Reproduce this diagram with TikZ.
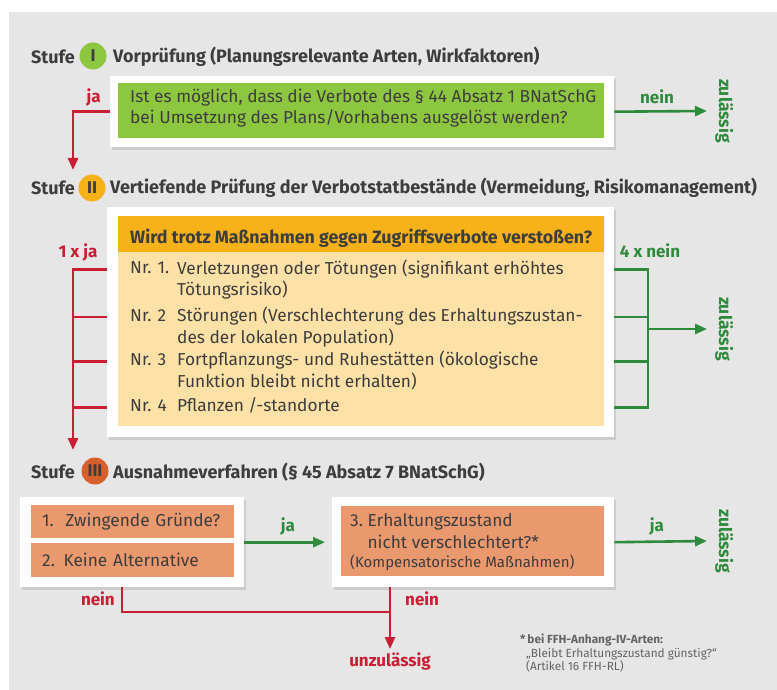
\documentclass[tikz,border=0pt]{standalone}
\usepackage{fontspec}
\setmainfont{Fira Sans}
\usetikzlibrary{positioning,shadows,arrows.meta}

\definecolor{bggray}{HTML}{E6E6E6}
\definecolor{txtgray}{HTML}{3D3D3D}
\definecolor{stufegreen}{HTML}{8DC63F}
\definecolor{stufeyellow}{HTML}{F7B219}
\definecolor{stufeorange}{HTML}{D6612B}
\definecolor{paleorange}{HTML}{FEE1A6}
\definecolor{salmon}{HTML}{E9996D}
\definecolor{okgreen}{HTML}{2E8B3C}
\definecolor{nored}{HTML}{C91E33}

\tikzset{
  whitebox/.style={fill=white, anchor=north west, inner sep=0pt,
    drop shadow={shadow xshift=1.5pt, shadow yshift=-2.5pt, opacity=0.25}},
  panel/.style={anchor=north west, inner sep=0pt},
  stufe/.style={anchor=west, inner sep=0pt, text=txtgray,
    font=\fontsize{18}{21}\selectfont\bfseries},
  roman/.style={circle, inner sep=0pt, minimum size=27pt, text=txtgray,
    font=\fontsize{17}{20}\selectfont\bfseries},
  boxtext/.style={anchor=north west, inner sep=0pt, align=left, text=txtgray,
    font=\fontsize{17.3}{20.5}\selectfont},
  answer/.style={inner sep=0pt, font=\fontsize{17}{20}\selectfont\bfseries},
  zul/.style={rotate=-90, anchor=south, inner xsep=0pt, inner ysep=8pt,
    text=okgreen, font=\fontsize{17.5}{20}\selectfont\bfseries},
  yesline/.style={draw=okgreen, line width=2.6pt},
  noline/.style={draw=nored, line width=2.6pt},
  arrowend/.style={-{Triangle[length=12pt,width=10pt]}},
}

\begin{document}
\begin{tikzpicture}[x=1pt,y=-1pt]
  \useasboundingbox (0,0) rectangle (777,690);
  \fill[bggray] (9,12) rectangle (777,690);

  % Stufe I
  \node[stufe] (stufeI) at (31,57) {Stufe};
  \node[roman, fill=stufegreen] (romI) at (93,56) {I};
  \node[stufe] (titelI) at (113,57) {Vorprüfung (Planungsrelevante Arten, Wirkfaktoren)};

  \node[whitebox, minimum width=504pt, minimum height=71pt] (box1) at (110,76) {};
  \node[panel, fill=stufegreen, minimum width=486pt, minimum height=55pt] (frage1) at (118,83) {};
  \node[boxtext] (text1) at (130,88) {\strut Ist es möglich, dass die Verbote des § 44 Absatz 1 BNatSchG\\
    bei Umsetzung des Plans/Vorhabens ausgelöst werden?};

  \node[answer, text=nored, anchor=east] (jaI) at (101,97) {ja};
  \node[answer, text=okgreen] (neinI) at (657,97) {nein};
  \node[zul] (zulI) at (707,111) {zulässig};
  \coordinate (pfeilII) at (73,170);
  \draw[noline, arrowend] (box1.west) -| (pfeilII);
  \draw[yesline, arrowend] (box1.east) -- (zulI.south);

  % Stufe II
  \node[stufe] (stufeII) at (31,188) {Stufe};
  \node[roman, fill=stufeyellow] (romII) at (92,188) {II};
  \node[stufe] (titelII) at (110,188) {Vertiefende Prüfung der Verbotstatbestände (Vermeidung, Risikomanagement)};

  \node[whitebox, minimum width=507pt, minimum height=230pt] (box2) at (107,207) {};
  \node[panel, fill=stufeyellow, minimum width=486pt, minimum height=36pt] (kopf2) at (118,216) {};
  \node[panel, fill=paleorange, minimum width=486pt, minimum height=174pt] (liste2) at (118,252) {};
  \node[boxtext, font=\fontsize{17.8}{20.5}\selectfont\bfseries] (frage2) at (130,229)
    {\strut Wird trotz Maßnahmen gegen Zugriffsverbote verstoßen?};

  \node[boxtext] (nr1) at (130,259.2) {\strut Nr. 1.};
  \node[boxtext] (nr2) at (130,306.7) {\strut Nr. 2};
  \node[boxtext] (nr3) at (130,351) {\strut Nr. 3};
  \node[boxtext] (nr4) at (130,397.2) {\strut Nr. 4};
  \node[boxtext] (item1) at ([xshift=47pt]nr1.north west) {\strut Verletzungen oder Tötungen (signifikant erhöhtes\\Tötungsrisiko)};
  \node[boxtext] (item2) at ([xshift=47pt]nr2.north west) {\strut Störungen (Verschlechterung des Erhaltungszustan-\\des der lokalen Population)};
  \node[boxtext] (item3) at ([xshift=47pt]nr3.north west) {\strut Fortpflanzungs- und Ruhestätten (ökologische\\Funktion bleibt nicht erhalten)};
  \node[boxtext] (item4) at ([xshift=47pt]nr4.north west) {\strut Pflanzen /-standorte};

  \node[answer, text=nored] (jaII) at (78,252) {1 x ja};
  \node[answer, text=okgreen] (neinII) at (650,251) {4 x nein};
  \node[zul] (zulII) at (707,329) {zulässig};
  \coordinate (pfeilIII) at (73,450);
  \coordinate (gabel) at (648,329);
  \draw[noline, arrowend] (box2.west |- nr1.west) -| (pfeilIII);
  \foreach \i in {2,3,4} {
    \draw[noline] (box2.west |- nr\i.west) -- (pfeilIII |- nr\i.west);
  }
  \draw[yesline] (box2.east |- nr1.west) -- (gabel |- nr1.west) -- (gabel |- nr4.west) -- (box2.east |- nr4.west);
  \foreach \i in {2,3} {
    \draw[yesline] (box2.east |- nr\i.west) -- (gabel |- nr\i.west);
  }
  \draw[yesline, arrowend] (gabel) -- (zulII.south);

  % Stufe III
  \node[stufe] (stufeIII) at (31,472) {Stufe};
  \node[roman, fill=stufeorange] (romIII) at (95,471) {III};
  \node[stufe] (titelIII) at (113,472) {Ausnahmeverfahren (§ 45 Absatz 7 BNatSchG)};

  \node[whitebox, minimum width=224pt, minimum height=90pt] (box3a) at (20,497) {};
  \node[panel, fill=salmon, text=txtgray, font=\fontsize{17.3}{20.5}\selectfont, text width=181pt,
    inner xsep=11pt, minimum height=33pt] (grund) at (31,505) {1.\ \ Zwingende Gründe?};
  \node[panel, fill=salmon, text=txtgray, font=\fontsize{17.3}{20.5}\selectfont, text width=181pt,
    inner xsep=11pt, minimum height=34pt] (alternative) at (31,543) {2. Keine Alternative};

  \node[whitebox, minimum width=282pt, minimum height=90pt] (box3b) at (332,497) {};
  \node[panel, fill=salmon, minimum width=263pt, minimum height=70pt] (zustand) at (341,506) {};
  \node[boxtext, font=\fontsize{17.3}{22}\selectfont] (text3) at (350,511.2)
    {\strut 3.\ Erhaltungszustand\\\hphantom{3.\ }nicht verschlechtert?*\\[-3pt]
     {\fontsize{15}{16}\selectfont(Kompensatorische Maßnahmen)}};

  \node[answer, text=okgreen] (jaIIIa) at (288,526) {ja};
  \node[answer, text=okgreen] (jaIIIb) at (657,526) {ja};
  \node[zul] (zulIII) at (707,541) {zulässig};
  \draw[yesline, arrowend, shorten >=7pt] (box3a.east) -- (box3b.west);
  \draw[yesline, arrowend] (box3b.east) -- (zulIII.south);

  \node[answer, text=nored] (unz) at (390,661) {unzulässig};
  \node[answer, text=nored, anchor=east] (neinIIIa) at (115,599) {nein};
  \node[answer, text=nored, anchor=west] (neinIIIb) at (405,599) {nein};
  \coordinate (knick) at (122,612);
  \draw[noline] (knick |- box3a.south) |- (unz.north |- knick);
  \draw[noline, arrowend] (unz.north |- box3b.south) -- ([yshift=3pt]unz.north);

  \node[anchor=north west, inner sep=0pt, align=left, text=txtgray!80,
    font=\fontsize{11.8}{13.5}\selectfont] (fussnote) at (520,634)
    {\textbf{*\,bei FFH-Anhang-IV-Arten:}\\
     \hspace*{6pt}„Bleibt Erhaltungszustand günstig?“\\
     \hspace*{6pt}(Artikel 16 FFH-RL)};
\end{tikzpicture}
\end{document}
